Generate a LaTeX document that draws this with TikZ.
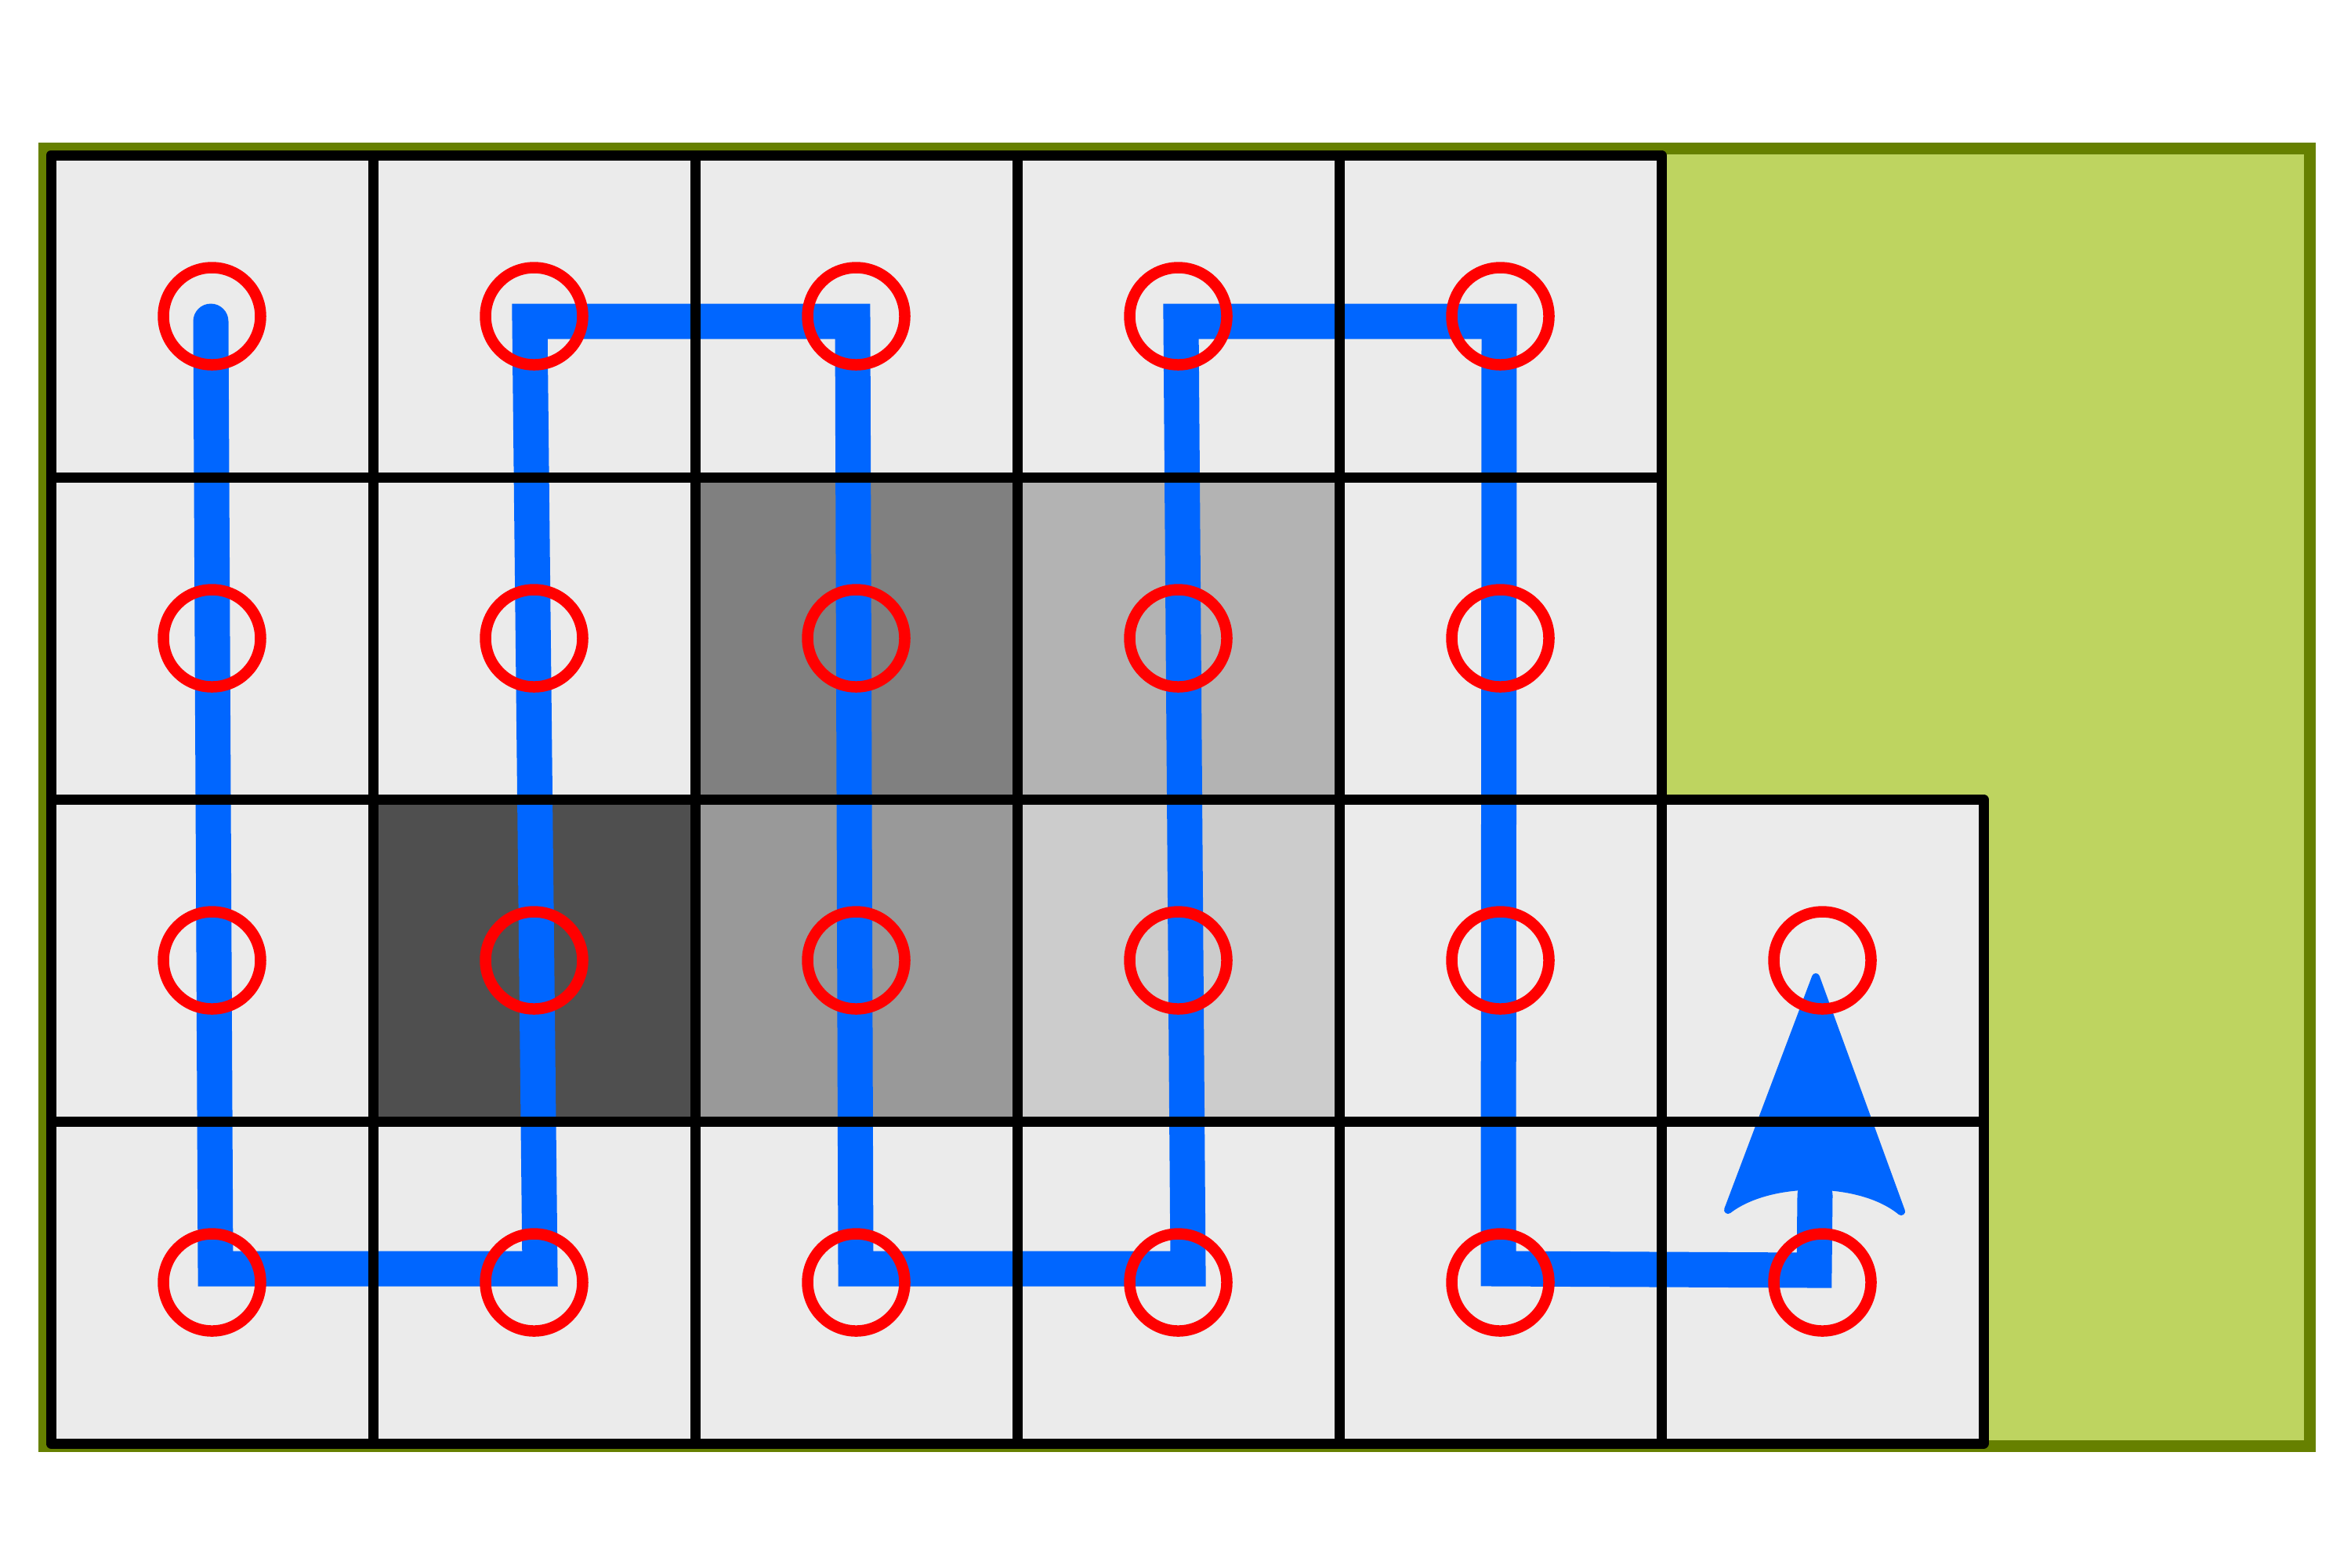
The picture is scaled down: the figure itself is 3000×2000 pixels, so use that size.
\documentclass[tikz,border=0pt]{standalone}
\definecolor{cellgray}{RGB}{235,235,235}
\definecolor{shadeA}{RGB}{128,128,128}
\definecolor{shadeB}{RGB}{179,179,179}
\definecolor{shadeC}{RGB}{79,79,79}
\definecolor{shadeD}{RGB}{153,153,153}
\definecolor{shadeE}{RGB}{204,204,204}
\definecolor{blueline}{RGB}{0,102,255}
\definecolor{greenfill}{RGB}{190,212,96}
\definecolor{greenline}{RGB}{102,128,0}
\begin{document}
\begin{tikzpicture}[x=0.1mm,y=-0.1mm,
  field/.style={rectangle,draw=greenline,fill=greenfill,line width=1.5mm,minimum width=289.1mm,minimum height=165.6mm,inner sep=0pt,outer sep=0pt},
  cellbox/.style={rectangle,draw=none,minimum width=41.1mm,minimum height=41.1mm,inner sep=0pt,outer sep=0pt},
  cellborder/.style={draw=black,line width=1.3mm,line join=round},
  dot/.style={circle,draw=red,line width=1.45mm,minimum size=12.4mm,inner sep=0pt,outer sep=0pt},
  route/.style={draw=blueline,line width=4.5mm,line cap=round,line join=miter},
  arrowhead/.style={draw=blueline,fill=blueline,line width=1mm,line join=round}]
\useasboundingbox (0,0) rectangle (3000,2000);
% green field
\node[field] (field) at (1502,1017.5) {};
% cell fills
\foreach \r/\c/\cc in {1/1/cellgray,1/2/cellgray,1/3/cellgray,1/4/cellgray,1/5/cellgray,
  2/1/cellgray,2/2/cellgray,2/3/shadeA,2/4/shadeB,2/5/cellgray,
  3/1/cellgray,3/2/shadeC,3/3/shadeD,3/4/shadeE,3/5/cellgray,3/6/cellgray,
  4/1/cellgray,4/2/cellgray,4/3/cellgray,4/4/cellgray,4/5/cellgray,4/6/cellgray}
  \node[cellbox,fill=\cc] (cell-\r-\c) at ({270.5+411*(\c-1)},{403.5+411*(\r-1)}) {};
% route waypoints
\coordinate (w0) at (269,410);
\coordinate (w1) at (275,1619);
\coordinate (w2) at (689,1619);
\coordinate (w3) at (676,410);
\coordinate (w4) at (1088,410);
\coordinate (w5) at (1092,1619);
\coordinate (w6) at (1516,1619);
\coordinate (w7) at (1507,410);
\coordinate (w8) at (1913,410);
\coordinate (w9) at (1912,1619);
\coordinate (w10) at (2315,1621);
\coordinate (w11) at (2316,1525);
\coordinate (tip) at (2317,1247);
\coordinate (barbL) at (2205,1544);
\coordinate (barbR) at (2426,1546);
\draw[route] (w0) -- (w1) -- (w2) -- (w3) -- (w4) -- (w5) -- (w6) -- (w7) -- (w8) -- (w9) -- (w10) -- (w11);
\filldraw[arrowhead] (tip) -- (barbL) .. controls (2258,1503) and (2374,1503) .. (barbR) -- cycle;
% cell borders
\foreach \r/\c in {1/1,1/2,1/3,1/4,1/5,2/1,2/2,2/3,2/4,2/5,3/1,3/2,3/3,3/4,3/5,3/6,4/1,4/2,4/3,4/4,4/5,4/6}
  \draw[cellborder] (cell-\r-\c.north west) rectangle (cell-\r-\c.south east);
% circles
\foreach \r/\c in {1/1,1/2,1/3,1/4,1/5,2/1,2/2,2/3,2/4,2/5,3/1,3/2,3/3,3/4,3/5,3/6,4/1,4/2,4/3,4/4,4/5,4/6}
  \node[dot] (dot-\r-\c) at (cell-\r-\c.center) {};
\end{tikzpicture}
\end{document}
